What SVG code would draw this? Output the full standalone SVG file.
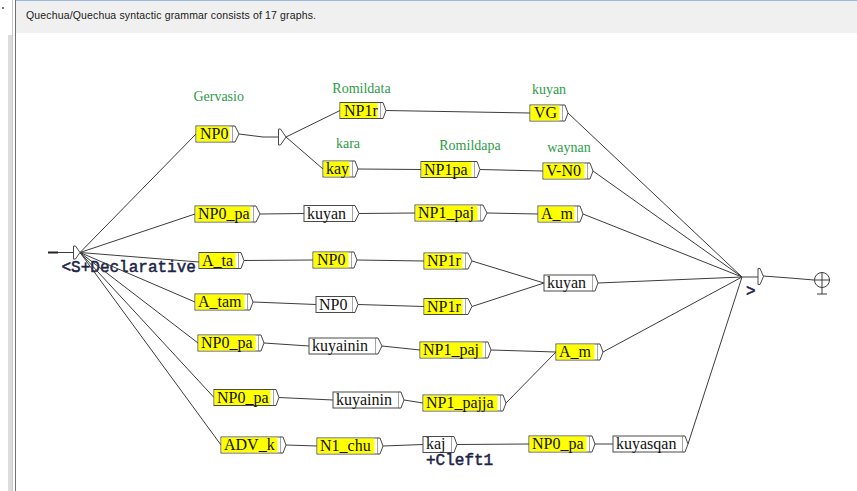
<svg xmlns="http://www.w3.org/2000/svg" width="857" height="491" viewBox="0 0 857 491">
<style>
.bx{fill:#ffffff;stroke:#4a4a4a;stroke-width:1}
.yf{fill:#ffff00;stroke:none}
.ch{fill:#ffffff;stroke:#4a4a4a;stroke-width:1}
.t{font-family:"Liberation Serif","Times New Roman",serif;font-size:16px;fill:#111111}
.g{font-family:"Liberation Serif","Times New Roman",serif;font-size:14px;fill:#2e9b47;text-anchor:middle}
.m{font-family:"Liberation Mono","Courier New",monospace;font-size:16px;fill:#1c2346;stroke:#1c2346;stroke-width:0.5}
.edge line,.edge polyline{stroke:#3c3c3c;stroke-width:1;fill:none}
</style>
<rect x="0" y="0" width="857" height="491" fill="#ffffff"/>
<!-- window chrome -->
<rect x="15" y="0" width="842" height="33" fill="#f0f0f0"/>
<line x1="15" y1="0.5" x2="857" y2="0.5" stroke="#9bb7dc"/>
<line x1="12.5" y1="0" x2="12.5" y2="491" stroke="#c8c8c8"/>
<line x1="15.5" y1="0" x2="15.5" y2="491" stroke="#707070"/>
<rect x="8" y="35" width="4" height="456" fill="#dcdcdc"/>
<rect x="2" y="7" width="2" height="2" fill="#777777"/>
<text x="26" y="18.5" font-family="'Liberation Sans',Arial,sans-serif" font-size="10.5" fill="#1a1a1a" textLength="290">Quechua/Quechua syntactic grammar consists of 17 graphs.</text>

<!-- labels -->
<g id="labels">
<text class="g" x="218.7" y="100.5">Gervasio</text>
<text class="g" x="361.5" y="92.5">Romildata</text>
<text class="g" x="549" y="94">kuyan</text>
<text class="g" x="348" y="148.3">kara</text>
<text class="g" x="470" y="149.5">Romildapa</text>
<text class="g" x="569" y="152">waynan</text>
<text class="m" x="61.5" y="271.7">&lt;S+Declarative</text>
<text class="m" x="426" y="465">+Cleft1</text>
<text class="m" x="746" y="296">&gt;</text>
</g>

<!-- connectors -->
<g id="connectors" class="edge">
<line x1="80" y1="252.5" x2="196" y2="134"/>
<line x1="80" y1="252.5" x2="195" y2="214"/>
<line x1="80" y1="252.5" x2="199" y2="262"/>
<line x1="80" y1="252.5" x2="195" y2="302"/>
<line x1="80" y1="252.5" x2="198" y2="343"/>
<line x1="80" y1="252.5" x2="214" y2="397.5"/>
<line x1="80" y1="252.5" x2="221" y2="445"/>
<polyline points="239,134 263,137 278,137"/>
<line x1="286" y1="137" x2="340" y2="110.5"/>
<line x1="286" y1="137" x2="323" y2="169"/>
<line x1="386" y1="110.5" x2="530" y2="113"/>
<line x1="358" y1="169" x2="421" y2="169.5"/>
<line x1="480" y1="169.5" x2="543" y2="171"/>
<line x1="568" y1="113" x2="742" y2="277"/>
<line x1="593" y1="171" x2="742" y2="277"/>
<line x1="260" y1="214" x2="304" y2="213.5"/>
<line x1="359" y1="213.5" x2="415" y2="213"/>
<line x1="487" y1="213" x2="538" y2="214"/>
<line x1="583" y1="214" x2="742" y2="277"/>
<line x1="244" y1="260.5" x2="313" y2="260"/>
<line x1="357" y1="260" x2="424" y2="261"/>
<line x1="472" y1="261" x2="544" y2="283"/>
<line x1="253" y1="302" x2="316" y2="304.5"/>
<line x1="358" y1="304.5" x2="424" y2="306.5"/>
<line x1="472" y1="306.5" x2="544" y2="283"/>
<line x1="598" y1="283" x2="742" y2="277"/>
<line x1="264" y1="343" x2="309" y2="346"/>
<line x1="382" y1="346" x2="420" y2="350"/>
<line x1="491" y1="350" x2="556" y2="352"/>
<line x1="603" y1="352" x2="742" y2="277"/>
<line x1="279" y1="397.5" x2="333" y2="400"/>
<line x1="404" y1="400" x2="423" y2="403"/>
<line x1="506" y1="403" x2="556" y2="352"/>
<line x1="286" y1="445" x2="317" y2="446"/>
<line x1="383" y1="446" x2="423" y2="444.5"/>
<line x1="457" y1="444.5" x2="529" y2="444"/>
<line x1="595" y1="444" x2="613" y2="444"/>
<line x1="688" y1="444" x2="742" y2="277"/>
<line x1="742" y1="277" x2="758" y2="277"/>
<polyline points="763,276 790,278 814,280"/>
<line x1="58" y1="252.5" x2="73" y2="252.5"/>
</g>

<!-- start node -->
<g id="start">
<line x1="48" y1="252.5" x2="58" y2="252.5" stroke="#222222" stroke-width="2"/>
<path d="M73.5,246 L75.5,246 L80,252.5 L75.5,259 L73.5,259 Z" class="ch"/>
</g>

<!-- inner empty node -->
<g id="n_empty1">
<path d="M278.5,129 L280.5,129 L286,137 L280.5,145 L278.5,145 Z" class="ch"/>
</g>

<!-- end empty node with output > -->
<g id="n_close">
<path d="M758,268.5 L760,268.5 L763.5,276.5 L760,284.5 L758,284.5 Z" class="ch"/>
</g>

<!-- final state -->
<g id="final" stroke="#3c3c3c" stroke-width="1" fill="none">
<circle cx="822" cy="280" r="7.5" fill="#ffffff"/>
<line x1="814.5" y1="280" x2="829.5" y2="280"/>
<line x1="822" y1="272.5" x2="822" y2="294"/>
<line x1="817" y1="294" x2="827" y2="294"/>
</g>

<g id="n1"><rect class="bx" x="196" y="126" width="37" height="16"/><rect class="yf" x="196.5" y="126.5" width="33" height="15"/><path class="ch" d="M233,126 L235,126 L239,134 L235,142 L233,142"/><text class="t" x="200" y="139">NP0</text></g>
<g id="n2"><rect class="bx" x="340" y="102.5" width="41" height="16"/><rect class="yf" x="340.5" y="103" width="37" height="15"/><path class="ch" d="M381,102.5 L383,102.5 L386,110.5 L383,118.5 L381,118.5"/><text class="t" x="344" y="115.5">NP1r</text></g>
<g id="n3"><rect class="bx" x="530" y="105" width="33" height="16"/><rect class="yf" x="530.5" y="105.5" width="29" height="15"/><path class="ch" d="M563,105 L565,105 L568,113 L565,121 L563,121"/><text class="t" x="534" y="118">VG</text></g>
<g id="n4"><rect class="bx" x="323" y="161" width="30" height="16"/><rect class="yf" x="323.5" y="161.5" width="26" height="15"/><path class="ch" d="M353,161 L355,161 L358,169 L355,177 L353,177"/><text class="t" x="326" y="174">kay</text></g>
<g id="n5"><rect class="bx" x="421" y="161.5" width="54" height="16"/><rect class="yf" x="421.5" y="162" width="50" height="15"/><path class="ch" d="M475,161.5 L477,161.5 L480,169.5 L477,177.5 L475,177.5"/><text class="t" x="424" y="174.5">NP1pa</text></g>
<g id="n6"><rect class="bx" x="543" y="163" width="45" height="16"/><rect class="yf" x="543.5" y="163.5" width="41" height="15"/><path class="ch" d="M588,163 L590,163 L593,171 L590,179 L588,179"/><text class="t" x="546" y="176">V-N0</text></g>
<g id="n7"><rect class="bx" x="195" y="206" width="59" height="16"/><rect class="yf" x="195.5" y="206.5" width="55" height="15"/><path class="ch" d="M254,206 L256,206 L260,214 L256,222 L254,222"/><text class="t" x="198" y="219">NP0_pa</text></g>
<g id="n8"><rect class="bx" x="304" y="205.5" width="49" height="16"/><path class="ch" d="M353,205.5 L355,205.5 L359,213.5 L355,221.5 L353,221.5"/><text class="t" x="307" y="218.5">kuyan</text></g>
<g id="n9"><rect class="bx" x="415" y="205" width="66" height="16"/><rect class="yf" x="415.5" y="205.5" width="62" height="15"/><path class="ch" d="M481,205 L483,205 L487,213 L483,221 L481,221"/><text class="t" x="418" y="218">NP1_paj</text></g>
<g id="n10"><rect class="bx" x="538" y="206" width="40" height="16"/><rect class="yf" x="538.5" y="206.5" width="36" height="15"/><path class="ch" d="M578,206 L580,206 L583,214 L580,222 L578,222"/><text class="t" x="541" y="219">A_m</text></g>
<g id="n11"><rect class="bx" x="199" y="252.5" width="40" height="16"/><rect class="yf" x="199.5" y="253" width="36" height="15"/><path class="ch" d="M239,252.5 L241,252.5 L244,260.5 L241,268.5 L239,268.5"/><text class="t" x="202" y="265.5">A_ta</text></g>
<g id="n12"><rect class="bx" x="313" y="252" width="39" height="16"/><rect class="yf" x="313.5" y="252.5" width="35" height="15"/><path class="ch" d="M352,252 L354,252 L357,260 L354,268 L352,268"/><text class="t" x="317" y="265">NP0</text></g>
<g id="n13"><rect class="bx" x="424" y="253" width="42" height="16"/><rect class="yf" x="424.5" y="253.5" width="38" height="15"/><path class="ch" d="M466,253 L468,253 L472,261 L468,269 L466,269"/><text class="t" x="427" y="266">NP1r</text></g>
<g id="n14"><rect class="bx" x="195" y="294" width="53" height="16"/><rect class="yf" x="195.5" y="294.5" width="49" height="15"/><path class="ch" d="M248,294 L250,294 L253,302 L250,310 L248,310"/><text class="t" x="198" y="307">A_tam</text></g>
<g id="n15"><rect class="bx" x="316" y="296.5" width="37" height="16"/><path class="ch" d="M353,296.5 L355,296.5 L358,304.5 L355,312.5 L353,312.5"/><text class="t" x="319" y="309.5">NP0</text></g>
<g id="n16"><rect class="bx" x="424" y="298.5" width="42" height="16"/><rect class="yf" x="424.5" y="299" width="38" height="15"/><path class="ch" d="M466,298.5 L468,298.5 L472,306.5 L468,314.5 L466,314.5"/><text class="t" x="427" y="311.5">NP1r</text></g>
<g id="n17"><rect class="bx" x="544" y="275" width="49" height="16"/><path class="ch" d="M593,275 L595,275 L598,283 L595,291 L593,291"/><text class="t" x="547" y="288">kuyan</text></g>
<g id="n18"><rect class="bx" x="198" y="335" width="61" height="16"/><rect class="yf" x="198.5" y="335.5" width="57" height="15"/><path class="ch" d="M259,335 L261,335 L264,343 L261,351 L259,351"/><text class="t" x="201" y="348">NP0_pa</text></g>
<g id="n19"><rect class="bx" x="309" y="338" width="67" height="16"/><path class="ch" d="M376,338 L378,338 L382,346 L378,354 L376,354"/><text class="t" x="312" y="351">kuyainin</text></g>
<g id="n20"><rect class="bx" x="420" y="342" width="66" height="16"/><rect class="yf" x="420.5" y="342.5" width="62" height="15"/><path class="ch" d="M486,342 L488,342 L491,350 L488,358 L486,358"/><text class="t" x="423" y="355">NP1_paj</text></g>
<g id="n21"><rect class="bx" x="556" y="344" width="42" height="16"/><rect class="yf" x="556.5" y="344.5" width="38" height="15"/><path class="ch" d="M598,344 L600,344 L603,352 L600,360 L598,360"/><text class="t" x="559" y="357">A_m</text></g>
<g id="n22"><rect class="bx" x="214" y="389.5" width="60" height="16"/><rect class="yf" x="214.5" y="390" width="56" height="15"/><path class="ch" d="M274,389.5 L276,389.5 L279,397.5 L276,405.5 L274,405.5"/><text class="t" x="217" y="402.5">NP0_pa</text></g>
<g id="n23"><rect class="bx" x="333" y="392" width="66" height="16"/><path class="ch" d="M399,392 L401,392 L404,400 L401,408 L399,408"/><text class="t" x="336" y="405">kuyainin</text></g>
<g id="n24"><rect class="bx" x="423" y="395" width="78" height="16"/><rect class="yf" x="423.5" y="395.5" width="74" height="15"/><path class="ch" d="M501,395 L503,395 L506,403 L503,411 L501,411"/><text class="t" x="426" y="408">NP1_pajja</text></g>
<g id="n25"><rect class="bx" x="221" y="437" width="60" height="16"/><rect class="yf" x="221.5" y="437.5" width="56" height="15"/><path class="ch" d="M281,437 L283,437 L286,445 L283,453 L281,453"/><text class="t" x="224" y="450">ADV_k</text></g>
<g id="n26"><rect class="bx" x="317" y="438" width="61" height="16"/><rect class="yf" x="317.5" y="438.5" width="57" height="15"/><path class="ch" d="M378,438 L380,438 L383,446 L380,454 L378,454"/><text class="t" x="320" y="451">N1_chu</text></g>
<g id="n27"><rect class="bx" x="423" y="436.5" width="29" height="16"/><path class="ch" d="M452,436.5 L454,436.5 L457,444.5 L454,452.5 L452,452.5"/><text class="t" x="426" y="449">kaj</text></g>
<g id="n28"><rect class="bx" x="529" y="436" width="61" height="16"/><rect class="yf" x="529.5" y="436.5" width="57" height="15"/><path class="ch" d="M590,436 L592,436 L595,444 L592,452 L590,452"/><text class="t" x="532" y="449">NP0_pa</text></g>
<g id="n29"><rect class="bx" x="613" y="436" width="70" height="16"/><path class="ch" d="M683,436 L685,436 L688,444 L685,452 L683,452"/><text class="t" x="616" y="449">kuyasqan</text></g>
</svg>
